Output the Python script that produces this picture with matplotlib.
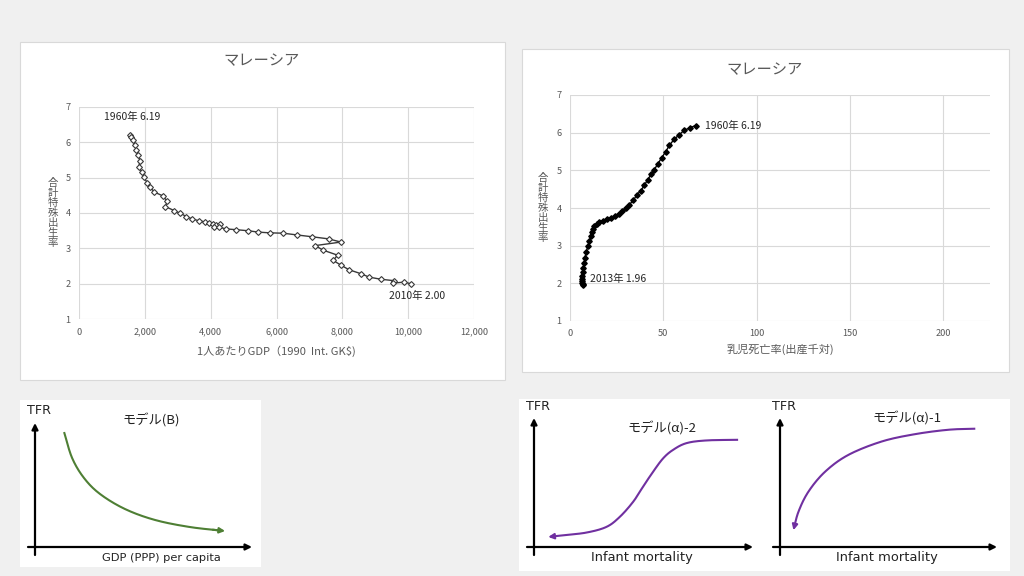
import matplotlib
matplotlib.use("Agg")
import matplotlib.pyplot as plt
from matplotlib.patches import Rectangle
import numpy as np

plt.rcParams['font.family'] = ['Noto Sans CJK JP', 'DejaVu Sans']

# ---------------- data ----------------
title_left = "マレーシア"
title_right = "マレーシア"
ylabel_tfr = "合計特殊出生率"
xlabel_gdp = "1人あたりGDP（1990  Int. GK$)"
xlabel_imr = "乳児死亡率(出産千対)"

gdp = [1540, 1591, 1642, 1693, 1743, 1804, 1845, 1824, 1905, 1976,
       2067, 2169, 2290, 2554, 2676, 2625, 2888, 3081, 3263, 3446,
       3649, 3821, 3953, 4074, 4176, 4297, 4094, 4247, 4480, 4763,
       5128, 5453, 5797, 6202, 6628, 7074, 7581, 7956, 7176, 7419,
       7855, 7723, 7956, 8199, 8554, 8817, 9172, 9567, 9544, 9882, 10094]
tfr_gdp = [6.19, 6.14, 6.05, 5.92, 5.78, 5.64, 5.48, 5.31, 5.15, 5.01,
           4.86, 4.72, 4.59, 4.48, 4.33, 4.18, 4.07, 3.99, 3.90, 3.83,
           3.78, 3.75, 3.72, 3.69, 3.65, 3.68, 3.61, 3.60, 3.55, 3.53,
           3.50, 3.46, 3.44, 3.43, 3.38, 3.33, 3.27, 3.18, 3.08, 2.95,
           2.81, 2.66, 2.53, 2.40, 2.29, 2.19, 2.13, 2.09, 2.02, 2.05, 2.00]

imr = [67.3, 64.3, 61.1, 58.2, 55.7, 53.2, 51.3, 49.1, 47.0, 45.2,
       43.4, 41.6, 39.8, 37.9, 35.7, 33.9, 31.8, 30.0, 28.0, 26.1,
       24.1, 21.8, 19.6, 17.5, 15.7, 14.3, 13.0, 12.1, 11.6, 11.1,
       10.4, 9.5, 8.6, 8.0, 7.5, 7.1, 6.8, 6.6, 6.4, 6.4, 6.6, 6.8, 7.0]
tfr_imr = [6.19, 6.13, 6.06, 5.93, 5.82, 5.66, 5.50, 5.33, 5.17, 5.02,
           4.89, 4.75, 4.60, 4.46, 4.34, 4.20, 4.09, 4.00, 3.91, 3.85,
           3.78, 3.73, 3.71, 3.66, 3.62, 3.57, 3.51, 3.44, 3.36, 3.25,
           3.13, 2.98, 2.82, 2.67, 2.54, 2.40, 2.30, 2.20, 2.11, 2.05,
           2.01, 1.98, 1.96]

gdp_ticks = [0, 2000, 4000, 6000, 8000, 10000, 12000]
imr_ticks = [0, 50, 100, 150, 200]
tfr_ticks = [1, 2, 3, 4, 5, 6, 7]

# schematic curves (normalised 0..1 coordinates)
modelB_x = [0.134, 0.171, 0.226, 0.300, 0.415, 0.553, 0.714, 0.876]
modelB_y = [0.927, 0.718, 0.556, 0.427, 0.306, 0.218, 0.161, 0.129]
modelA2_x = [0.932, 0.787, 0.696, 0.635, 0.590, 0.544, 0.498, 0.453, 0.392, 0.331,
             0.240, 0.134, 0.065]
modelA2_y = [0.831, 0.826, 0.805, 0.753, 0.688, 0.584, 0.468, 0.351, 0.234, 0.156,
             0.112, 0.091, 0.078]
modelA1_x = [0.900, 0.777, 0.623, 0.469, 0.315, 0.208, 0.131, 0.085, 0.062]
modelA1_y = [0.917, 0.909, 0.875, 0.818, 0.714, 0.584, 0.429, 0.273, 0.130]

W, H = 1024, 576
fig = plt.figure(figsize=(W / 100, H / 100), dpi=100)
fig.patch.set_facecolor('#f0f0f0')


def fbox(x0, y0, x1, y1):
    """pixel box -> figure fraction [l, b, w, h]"""
    return [x0 / W, 1 - y1 / H, (x1 - x0) / W, (y1 - y0) / H]


def panel(x0, y0, x1, y1, border=True):
    l, b, w, h = fbox(x0, y0, x1, y1)
    fig.patches.append(Rectangle((l, b), w, h, transform=fig.transFigure,
                                 facecolor='white',
                                 edgecolor='#d9d9d9' if border else 'none',
                                 linewidth=0.8, zorder=-5))


# white panels
panel(20, 42, 505, 380)
panel(522, 49, 1009, 372)
panel(20, 400, 261, 567, border=False)
panel(519, 399, 1010, 571, border=False)

tick_color = '#595959'
grid_color = '#d9d9d9'


def style_excel(ax):
    ax.set_facecolor('none')
    for s in ax.spines.values():
        s.set_visible(False)
    ax.grid(True, color=grid_color, linewidth=0.8)
    ax.set_axisbelow(True)
    ax.tick_params(length=0, labelsize=6.6, colors=tick_color, pad=6)


# ---------------- left chart ----------------
ax1 = fig.add_axes(fbox(79, 106.7, 474, 319.3))
style_excel(ax1)
ax1.plot(gdp, tfr_gdp, color='#383838', linewidth=1.0, marker='D',
         markersize=3.0, markerfacecolor='white', markeredgecolor='#383838',
         markeredgewidth=0.8, zorder=3)
ax1.set_xlim(0, 12000)
ax1.set_ylim(1, 7)
ax1.set_xticks(gdp_ticks)
ax1.set_xticklabels([f"{v:,}" for v in gdp_ticks])
ax1.set_yticks(tfr_ticks)
ax1.set_xlabel(xlabel_gdp, fontsize=8, color=tick_color, labelpad=6)
ax1.text(-0.066, 0.5, "\n".join(ylabel_tfr), transform=ax1.transAxes,
         ha='center', va='center', fontsize=7.5, color=tick_color, linespacing=1.0)
fig.text(262 / W, 1 - 61 / H, title_left, fontsize=11, color='#595959',
         ha='center', va='center')
ax1.annotate(f"1960年 {tfr_gdp[0]:.2f}", (gdp[0], tfr_gdp[0]), xytext=(2, 13.5),
             textcoords='offset points', fontsize=7.5, color='#262626',
             ha='center', va='center')
ax1.annotate(f"2010年 {tfr_gdp[-1]:.2f}", (gdp[-1], tfr_gdp[-1]), xytext=(4, -9),
             textcoords='offset points', fontsize=7.5, color='#262626',
             ha='center', va='center')

# ---------------- right chart ----------------
ax2 = fig.add_axes(fbox(570, 95, 990, 321))
style_excel(ax2)
ax2.plot(imr, tfr_imr, color='black', linewidth=1.0, marker='D',
         markersize=2.8, markerfacecolor='black', markeredgecolor='black', zorder=3)
ax2.set_xlim(0, 225)
ax2.set_ylim(1, 7)
ax2.set_xticks(imr_ticks)
ax2.set_yticks(tfr_ticks)
ax2.set_xlabel(xlabel_imr, fontsize=8, color=tick_color, labelpad=4)
ax2.text(-0.065, 0.5, "\n".join(ylabel_tfr), transform=ax2.transAxes,
         ha='center', va='center', fontsize=7.5, color=tick_color, linespacing=1.0)
fig.text(765 / W, 1 - 70 / H, title_right, fontsize=11, color='#595959',
         ha='center', va='center')
ax2.annotate(f"1960年 {tfr_imr[0]:.2f}", (imr[0], tfr_imr[0]), xytext=(7, 0),
             textcoords='offset points', fontsize=7.5, color='#262626',
             ha='left', va='center')
ax2.annotate(f"2013年 {tfr_imr[-1]:.2f}", (imr[-1], tfr_imr[-1]), xytext=(5, 4),
             textcoords='offset points', fontsize=7.5, color='#262626',
             ha='left', va='center')


# ---------------- schematic panels ----------------
def catmull_rom(xs, ys, n=20):
    P = np.column_stack([xs, ys]).astype(float)
    P = np.vstack([2 * P[0] - P[1], P, 2 * P[-1] - P[-2]])
    out = []
    for i in range(1, len(P) - 2):
        p0, p1, p2, p3 = P[i - 1], P[i], P[i + 1], P[i + 2]
        for t in np.linspace(0, 1, n, endpoint=False):
            t2, t3 = t * t, t * t * t
            out.append(0.5 * ((2 * p1) + (-p0 + p2) * t +
                              (2 * p0 - 5 * p1 + 4 * p2 - p3) * t2 +
                              (-p0 + 3 * p1 - 3 * p2 + p3) * t3))
    out.append(P[-2])
    out = np.array(out)
    return out[:, 0], out[:, 1]


def schematic(box, origin, x_end, y_top, title, title_pos, title_fs,
              xlabel, xlabel_pos, xlabel_fs, cx, cy, color):
    x0, y0, x1, y1 = box
    ax = fig.add_axes(fbox(x0, y0, x1, y1))
    ax.set_xlim(x0, x1)
    ax.set_ylim(y1, y0)
    ax.axis('off')
    ox, oy = origin
    ax.annotate("", xy=(x_end, oy), xytext=(ox - 7, oy),
                arrowprops=dict(arrowstyle='-|>', color='black', lw=1.6,
                                mutation_scale=9, shrinkA=0, shrinkB=0))
    ax.annotate("", xy=(ox, y_top), xytext=(ox, oy + 8),
                arrowprops=dict(arrowstyle='-|>', color='black', lw=1.6,
                                mutation_scale=9, shrinkA=0, shrinkB=0))
    ax.text(ox - 8, y_top - 12, "TFR", fontsize=9.2, ha='left', va='center',
            color='#222222', family=['DejaVu Sans'])
    ax.text(title_pos[0], title_pos[1], title, fontsize=title_fs, ha='center',
            va='center', color='#222222')
    ax.text(xlabel_pos[0], xlabel_pos[1], xlabel, fontsize=xlabel_fs, ha='center',
            va='center', color='#222222', family=['DejaVu Sans'])
    px = [ox + v * (x_end - ox) for v in cx]
    py = [oy + v * (y_top - oy) for v in cy]
    sx, sy = catmull_rom(px, py)
    ax.plot(sx[:-4], sy[:-4], color=color, lw=1.5, solid_capstyle='butt')
    ax.annotate("", xy=(sx[-1], sy[-1]), xytext=(sx[-8], sy[-8]),
                arrowprops=dict(arrowstyle='-|>', color=color, lw=1.5,
                                mutation_scale=8, shrinkA=0, shrinkB=0))
    return ax


schematic((20, 400, 261, 567), (35, 547), 252, 423, "モデル(B)", (151, 420), 9.5,
          "GDP (PPP) per capita", (161, 558), 8.2, modelB_x, modelB_y, '#4e7f34')
schematic((519, 399, 765, 571), (534, 547), 753, 418, "モデル(α)-2", (662, 428), 9.5,
          "Infant mortality", (642, 557), 9.4, modelA2_x, modelA2_y, '#7030a0')
schematic((765, 399, 1010, 571), (780, 547), 997, 418, "モデル(α)-1", (907, 418), 9.5,
          "Infant mortality", (887, 557), 9.4, modelA1_x, modelA1_y, '#7030a0')

fig.savefig("out.png", dpi=100, facecolor=fig.get_facecolor())
